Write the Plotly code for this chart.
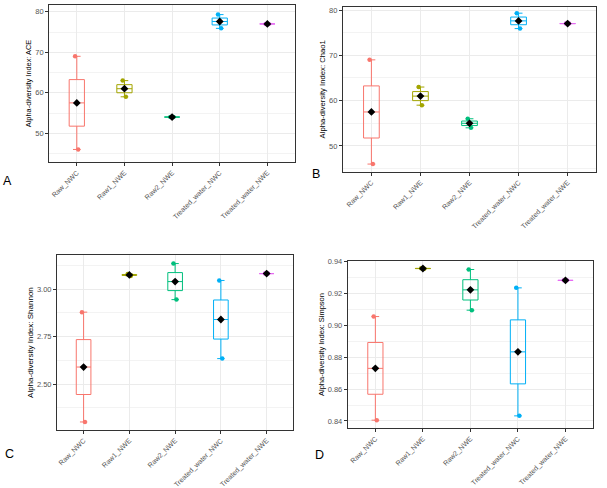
import numpy as np
import plotly.graph_objects as go

groups = ["Raw_NWC", "Raw1_NWE", "Raw2_NWE", "Treated_water_NWC", "Treated_water_NWE"]
colors = ["#F8766D", "#A3A500", "#00BF7D", "#00B0F6", "#E76BF3"]

# two samples per group
ace = [[46.0, 69.0], [59.0, 63.0], [54.0, 54.0], [75.9, 79.3], [77.0, 77.0]]
chao1 = [[46.0, 69.0], [59.0, 63.0], [54.0, 56.0], [75.9, 79.3], [77.0, 77.0]]
shannon = [[2.30, 2.879], [3.070, 3.080], [2.945, 3.135], [2.634, 3.046], [3.082, 3.082]]
simpson = [[0.8405, 0.9055], [0.9355, 0.9358], [0.9095, 0.9350], [0.8432, 0.9235], [0.9282, 0.9282]]

panels = [
    dict(data=ace, title="Alpha-diversity Index: ACE", letter="A", tsize=7.4,
         xdom=[0.081, 0.486], ydom=[0.668, 0.990], yrange=[42.9, 81.7], dtick=10),
    dict(data=chao1, title="Alpha-diversity Index: Chao1", letter="B", tsize=7.7,
         xdom=[0.565, 0.982], ydom=[0.648, 0.986], yrange=[44.3, 80.7], dtick=10),
    dict(data=shannon, title="Alpha-diversity Index: Shannon", letter="C", tsize=8.0,
         xdom=[0.094, 0.483], ydom=[0.119, 0.477], yrange=[2.258, 3.179], dtick=0.25),
    dict(data=simpson, title="Alpha-diversity Index: Simpson", letter="D", tsize=7.5,
         xdom=[0.573, 0.977], ydom=[0.123, 0.465], yrange=[0.8356, 0.9403], dtick=0.02),
]
letter_pos = {"A": (0.013, 0.63), "B": (0.521, 0.643), "C": (0.016, 0.07), "D": (0.527, 0.068)}

fig = go.Figure()
layout = {}

for p_idx, p in enumerate(panels):
    n = "" if p_idx == 0 else str(p_idx + 1)
    xa, ya = "x" + n, "y" + n
    means = []
    for g, vals, col in zip(groups, p["data"], colors):
        v = np.array(vals)
        q1, med, q3 = np.percentile(v, [25, 50, 75])
        fig.add_trace(go.Box(
            x=[g], q1=[q1], median=[med], q3=[q3], lowerfence=[v.min()], upperfence=[v.max()],
            xaxis=xa, yaxis=ya, width=0.32, whiskerwidth=0.5,
            line=dict(color=col, width=1), fillcolor="rgba(255,255,255,0)",
            boxpoints=False, showlegend=False, hoverinfo="skip"))
        # jittered raw points
        fig.add_trace(go.Box(
            x=[g] * len(v), y=v, xaxis=xa, yaxis=ya, boxpoints="all", jitter=0.35, pointpos=0,
            line=dict(width=0, color="rgba(0,0,0,0)"), fillcolor="rgba(0,0,0,0)",
            marker=dict(color=col, size=4.5), showlegend=False, width=0.32))
        means.append(v.mean())
    fig.add_trace(go.Scatter(x=groups, y=means, mode="markers", xaxis=xa, yaxis=ya,
                             marker=dict(symbol="diamond", color="black", size=6),
                             showlegend=False))

    layout["xaxis" + n] = dict(
        domain=p["xdom"], anchor=ya, type="category", range=[-0.58, 4.58], automargin=False,
        showline=True, mirror=True, linecolor="#333333", linewidth=1,
        showgrid=True, gridcolor="#EBEBEB", gridwidth=1,
        ticks="outside", ticklen=3, tickcolor="#333333", tickangle=-45,
        tickfont=dict(size=7, color="#555555"), zeroline=False)
    layout["yaxis" + n] = dict(
        domain=p["ydom"], anchor=xa, range=p["yrange"], tick0=0, dtick=p["dtick"], automargin=False,
        showline=True, mirror=True, linecolor="#333333", linewidth=1,
        showgrid=True, gridcolor="#EBEBEB", gridwidth=1,
        minor=dict(showgrid=True, gridcolor="#F3F3F3", gridwidth=0.6, dtick=p["dtick"] / 2),
        ticks="outside", ticklen=3, tickcolor="#333333",
        tickfont=dict(size=7.5, color="#555555"), zeroline=False,
        tickformat=".2f" if p["dtick"] < 1 else "d",
        title=dict(text=p["title"], font=dict(size=p["tsize"], color="black"), standoff=2))

annotations = []
for p in panels:
    lx, ly = letter_pos[p["letter"]]
    annotations.append(dict(text=p["letter"], x=lx, y=ly, xref="paper", yref="paper",
                            showarrow=False, xanchor="center", yanchor="middle",
                            font=dict(size=12.5, color="black")))

fig.update_layout(**layout)
fig.update_layout(
    width=607, height=488, margin=dict(l=0, r=0, t=0, b=0),
    plot_bgcolor="white", paper_bgcolor="white", boxmode="overlay",
    font=dict(family="Liberation Sans, Arial, sans-serif"),
    annotations=annotations)

# drop the browser's default body margin so the figure sits at the page corner
fig.write_html("out.html", config={"displayModeBar": False},
               post_script="document.body.style.margin='0px';")
